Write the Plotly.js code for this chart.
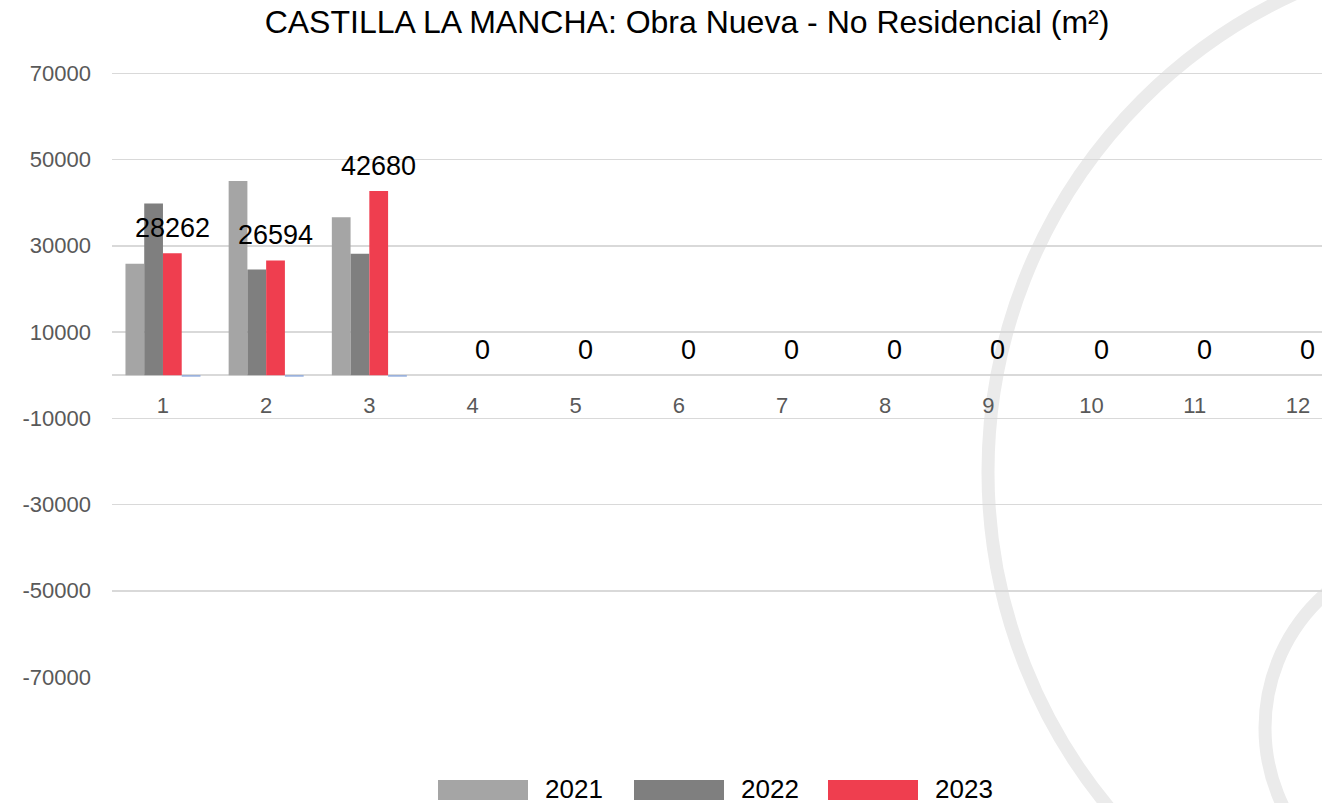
<!DOCTYPE html>
<html>
<head>
<meta charset="utf-8">
<script src="https://cdn.plot.ly/plotly-3.0.1.min.js"></script>
<style>html,body{margin:0;padding:0;background:#fff;}#chart{width:1322px;height:803px;}</style>
</head>
<body>
<div id="chart"></div>
<script>
// ---- data ----
const months = [1,2,3,4,5,6,7,8,9,10,11,12];
const v2021 = [25850, 45050, 36630, null, null, null, null, null, null, null, null, null];
const v2022 = [39800, 24500, 28150, null, null, null, null, null, null, null, null, null];
const v2023 = [28262, 26594, 42680, 0, 0, 0, 0, 0, 0, 0, 0, 0];
const vVar  = [-350, -350, -350, null, null, null, null, null, null, null, null, null];
const seriesNames = ['2021', '2022', '2023'];
const seriesColors = ['#a5a5a5', '#7f7f7f', '#ef3e4f'];
const yTickVals = [-70000, -50000, -30000, -10000, 10000, 30000, 50000, 70000];
const yTickText = ['-70000', '-50000', '-30000', '-10000', '10000', '30000', '50000', '70000'];
const titleText = 'CASTILLA LA MANCHA: Obra Nueva - No Residencial (m²)';

// ---- layout helpers (pixel -> paper) ----
const W = 1322, H = 803;
const M = {l: 112, r: 0, t: 72, b: 126};
const PW = W - M.l - M.r, PH = H - M.t - M.b;
const px = x => (x - M.l) / PW;
const py = y => (H - M.b - y) / PH;
const FONT = 'Liberation Sans, Arial, sans-serif';

const traces = [
  {type: 'bar', x: months, y: v2021, name: seriesNames[0], marker: {color: seriesColors[0]}, showlegend: false, hoverinfo: 'x+y'},
  {type: 'bar', x: months, y: v2022, name: seriesNames[1], marker: {color: seriesColors[1]}, showlegend: false, hoverinfo: 'x+y'},
  {type: 'bar', x: months, y: v2023, name: seriesNames[2], marker: {color: seriesColors[2]}, showlegend: false, hoverinfo: 'x+y'},
  {type: 'bar', x: months, y: vVar, name: 'var', marker: {color: '#8faadc'}, showlegend: false, hoverinfo: 'x+y'}
];

// data labels for the 2023 series
const annotations = [];
months.forEach((m, i) => {
  if (v2023[i] === null) return;
  annotations.push({
    x: m, y: v2023[i], xref: 'x', yref: 'y', text: String(v2023[i]),
    showarrow: false, xshift: 9.5, yshift: 25, yanchor: 'middle', xanchor: 'center',
    font: {family: FONT, size: 27, color: '#000000'}
  });
});

// custom legend
const shapes = [];
const legX = [438, 634, 828];
seriesNames.forEach((n, i) => {
  shapes.push({type: 'rect', xref: 'paper', yref: 'paper', x0: px(legX[i]), x1: px(legX[i] + 90), y0: py(800), y1: py(780),
    fillcolor: seriesColors[i], line: {width: 0}});
  annotations.push({xref: 'paper', yref: 'paper', x: px(legX[i] + 105), y: py(789), xanchor: 'left', yanchor: 'middle',
    text: n, showarrow: false, font: {family: FONT, size: 26, color: '#000000'}});
});

// decorative background arcs
shapes.push({type: 'circle', layer: 'below', xref: 'paper', yref: 'paper',
  x0: px(1514 - 526), x1: px(1514 + 526), y0: py(472 + 526), y1: py(472 - 526),
  line: {color: '#ebebeb', width: 13}, fillcolor: 'rgba(0,0,0,0)'});
shapes.push({type: 'circle', layer: 'below', xref: 'paper', yref: 'paper',
  x0: px(1444 - 179), x1: px(1444 + 179), y0: py(728 + 179), y1: py(728 - 179),
  line: {color: '#ebebeb', width: 13}, fillcolor: 'rgba(0,0,0,0)'});

const layout = {
  width: W, height: H,
  margin: M,
  paper_bgcolor: '#ffffff', plot_bgcolor: 'rgba(0,0,0,0)',
  font: {family: FONT},
  title: {text: titleText, x: 687 / W, xref: 'container', xanchor: 'center', y: 1 - 22 / H, yref: 'container', yanchor: 'middle',
    font: {family: FONT, size: 32, color: '#000000'}},
  barmode: 'group', bargap: 0.273, bargroupgap: 0,
  showlegend: false,
  xaxis: {
    type: 'linear', range: [0.506, 12.233], tickvals: months, ticktext: months.map(String),
    anchor: 'free', position: 70000 / 140300, showline: false, showgrid: false, zeroline: false,
    ticks: '', ticklabelstandoff: 15, tickfont: {family: FONT, size: 22, color: '#595959'}
  },
  yaxis: {
    range: [-70000, 70300], tickmode: 'array', tickvals: yTickVals, ticktext: yTickText,
    showgrid: true, gridcolor: '#d9d9d9', gridwidth: 1.5,
    zeroline: true, zerolinecolor: '#d9d9d9', zerolinewidth: 1.5,
    ticks: '', ticklabelstandoff: 20, tickfont: {family: FONT, size: 22, color: '#595959'}
  },
  annotations: annotations,
  shapes: shapes
};

Plotly.newPlot('chart', traces, layout, {displayModeBar: false, staticPlot: true});
</script>
</body>
</html>
